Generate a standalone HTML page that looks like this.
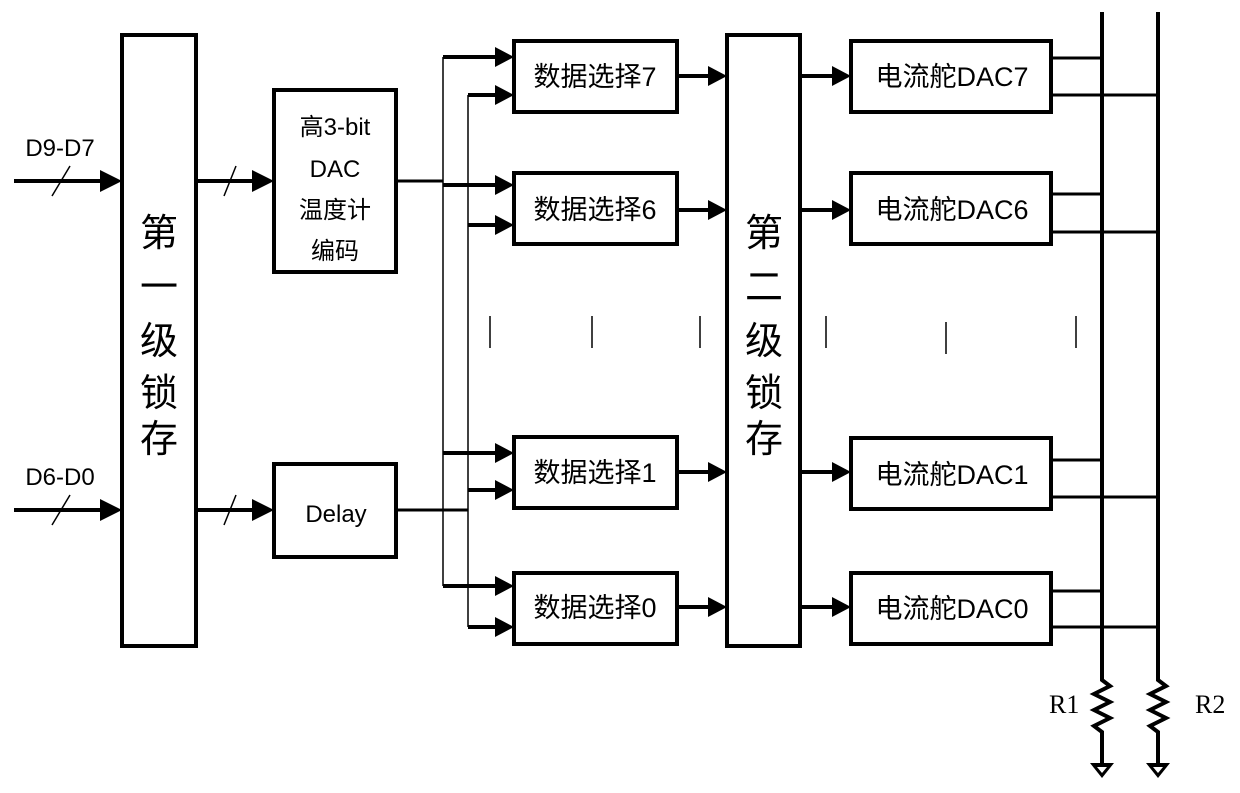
<!DOCTYPE html>
<html><head><meta charset="utf-8"><style>
html,body{margin:0;padding:0;background:#fff;}
svg{display:block;}
text{font-family:"Liberation Sans","Noto Sans CJK SC",sans-serif;fill:#000;}
text.serif{font-family:"Liberation Serif",serif;}
</style></head><body>
<svg width="1240" height="793" viewBox="0 0 1240 793" xmlns="http://www.w3.org/2000/svg">
<g fill="none" stroke="#000" stroke-width="4">
<rect x="122" y="35" width="74" height="611"/>
<rect x="727" y="35" width="73" height="611"/>
<rect x="274" y="90" width="122" height="182"/>
<rect x="274" y="464" width="122" height="93"/>
<rect x="514" y="41" width="163" height="71"/>
<rect x="514" y="173" width="163" height="71"/>
<rect x="514" y="437" width="163" height="71"/>
<rect x="514" y="573" width="163" height="71"/>
<rect x="851" y="41" width="200" height="71"/>
<rect x="851" y="173" width="200" height="71"/>
<rect x="851" y="438" width="200" height="71"/>
<rect x="851" y="573" width="200" height="71"/>
</g>
<g stroke="#000" stroke-width="4" fill="none">
<line x1="14" y1="181" x2="100" y2="181"/>
<line x1="14" y1="510" x2="100" y2="510"/>
<line x1="196" y1="181" x2="252" y2="181"/>
<line x1="196" y1="510" x2="252" y2="510"/>
<line x1="396" y1="181" x2="443" y2="181" stroke-width="3"/>
<line x1="396" y1="510" x2="468" y2="510" stroke-width="3"/>
<line x1="443" y1="57" x2="495" y2="57"/>
<line x1="468" y1="95" x2="495" y2="95"/>
<line x1="443" y1="185" x2="495" y2="185"/>
<line x1="468" y1="225" x2="495" y2="225"/>
<line x1="443" y1="453" x2="495" y2="453"/>
<line x1="468" y1="490" x2="495" y2="490"/>
<line x1="443" y1="586" x2="495" y2="586"/>
<line x1="468" y1="627" x2="495" y2="627"/>
<line x1="677" y1="76" x2="708" y2="76"/>
<line x1="677" y1="210" x2="708" y2="210"/>
<line x1="677" y1="472" x2="708" y2="472"/>
<line x1="677" y1="607" x2="708" y2="607"/>
<line x1="800" y1="76" x2="832" y2="76"/>
<line x1="800" y1="210" x2="832" y2="210"/>
<line x1="800" y1="472" x2="832" y2="472"/>
<line x1="800" y1="607" x2="832" y2="607"/>
<line x1="1051" y1="58" x2="1102" y2="58" stroke-width="3"/>
<line x1="1051" y1="95" x2="1158" y2="95" stroke-width="3"/>
<line x1="1051" y1="194" x2="1102" y2="194" stroke-width="3"/>
<line x1="1051" y1="232" x2="1158" y2="232" stroke-width="3"/>
<line x1="1051" y1="460" x2="1102" y2="460" stroke-width="3"/>
<line x1="1051" y1="497" x2="1158" y2="497" stroke-width="3"/>
<line x1="1051" y1="591" x2="1102" y2="591" stroke-width="3"/>
<line x1="1051" y1="627" x2="1158" y2="627" stroke-width="3"/>
<line x1="1102" y1="12" x2="1102" y2="676"/>
<line x1="1158" y1="12" x2="1158" y2="676"/>
<polyline points="1102,676 1102,680 1110,686 1094,694 1110,702 1094,710 1110,718 1094,726 1102,732 1102,764"/>
<polyline points="1158,676 1158,680 1166,686 1150,694 1166,702 1150,710 1166,718 1150,726 1158,732 1158,764"/>
</g>
<g stroke="#000" stroke-width="1.5">
<line x1="443" y1="57" x2="443" y2="586"/>
<line x1="468" y1="95" x2="468" y2="627"/>
<line x1="52" y1="196" x2="70" y2="166"/>
<line x1="52" y1="525" x2="70" y2="495"/>
<line x1="224" y1="196" x2="236" y2="166"/>
<line x1="224" y1="525" x2="236" y2="495"/>
<line x1="490" y1="316" x2="490" y2="348"/>
<line x1="592" y1="316" x2="592" y2="348"/>
<line x1="700" y1="316" x2="700" y2="348"/>
<line x1="826" y1="316" x2="826" y2="348"/>
<line x1="946" y1="322" x2="946" y2="354"/>
<line x1="1076" y1="316" x2="1076" y2="348"/>
</g>
<g fill="#000">
<polygon points="100,170 122,181 100,192"/>
<polygon points="100,499 122,510 100,521"/>
<polygon points="252,170 274,181 252,192"/>
<polygon points="252,499 274,510 252,521"/>
<polygon points="495,47 514,57 495,67"/>
<polygon points="495,85 514,95 495,105"/>
<polygon points="495,175 514,185 495,195"/>
<polygon points="495,215 514,225 495,235"/>
<polygon points="495,443 514,453 495,463"/>
<polygon points="495,480 514,490 495,500"/>
<polygon points="495,576 514,586 495,596"/>
<polygon points="495,617 514,627 495,637"/>
<polygon points="708,66 727,76 708,86"/>
<polygon points="708,200 727,210 708,220"/>
<polygon points="708,462 727,472 708,482"/>
<polygon points="708,597 727,607 708,617"/>
<polygon points="832,66 851,76 832,86"/>
<polygon points="832,200 851,210 832,220"/>
<polygon points="832,462 851,472 832,482"/>
<polygon points="832,597 851,607 832,617"/>
<polygon points="1090,763 1114,763 1102,778"/>
<polygon points="1146,763 1170,763 1158,778"/>
</g>
<polygon points="1097,767 1107,767 1102,773" fill="#fff"/>
<polygon points="1153,767 1163,767 1158,773" fill="#fff"/>
<g font-size="24">
<text x="60" y="156" text-anchor="middle">D9-D7</text>
<text x="60" y="485" text-anchor="middle">D6-D0</text>
<text x="335" y="135" text-anchor="middle">高3-bit</text>
<text x="335" y="177" text-anchor="middle">DAC</text>
<text x="335" y="218" text-anchor="middle">温度计</text>
<text x="335" y="259" text-anchor="middle">编码</text>
<text x="336" y="522" text-anchor="middle">Delay</text>
</g>
<g font-size="27">
<text x="595" y="86" text-anchor="middle">数据选择7</text>
<text x="595" y="219" text-anchor="middle">数据选择6</text>
<text x="595" y="482" text-anchor="middle">数据选择1</text>
<text x="595" y="617" text-anchor="middle">数据选择0</text>
<text x="952" y="86" text-anchor="middle">电流舵DAC7</text>
<text x="952" y="219" text-anchor="middle">电流舵DAC6</text>
<text x="952" y="484" text-anchor="middle">电流舵DAC1</text>
<text x="952" y="618" text-anchor="middle">电流舵DAC0</text>
</g>
<g font-size="38" text-anchor="middle">
<text x="159" y="246">第</text>
<text x="159" y="300">一</text>
<text x="159" y="354">级</text>
<text x="159" y="406">锁</text>
<text x="159" y="452">存</text>
<text x="764" y="246">第</text>
<text x="764" y="300">二</text>
<text x="764" y="354">级</text>
<text x="764" y="406">锁</text>
<text x="764" y="452">存</text>
</g>
<text class="serif" x="1049" y="713" font-size="26">R1</text>
<text class="serif" x="1195" y="713" font-size="26">R2</text>
</svg>
</body></html>
